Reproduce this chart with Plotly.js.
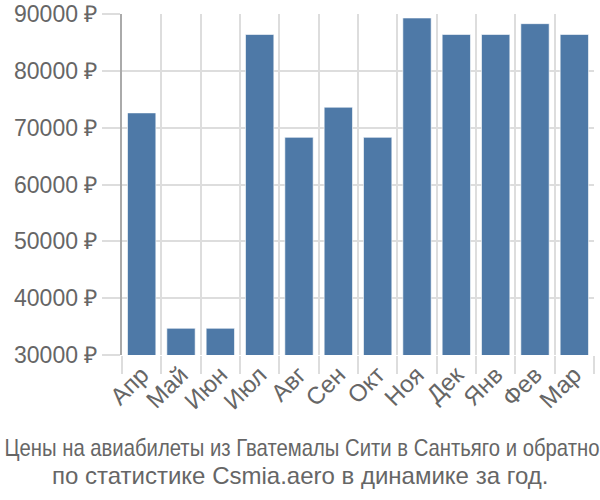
<!DOCTYPE html>
<html><head><meta charset="utf-8">
<script src="https://cdn.plot.ly/plotly-3.0.1.min.js"></script>
<style>body{margin:0;}#c{width:600px;height:500px;}</style>
</head><body><div id="c"></div>
<script>
const months = ["Апр","Май","Июн","Июл","Авг","Сен","Окт","Ноя","Дек","Янв","Фев","Мар"];
const prices = [72600, 34700, 34700, 86400, 68300, 73600, 68300, 89300, 86400, 86400, 88300, 86400];
const yTicks = [30000, 40000, 50000, 60000, 70000, 80000, 90000];
const yTickText = yTicks.map(v => v + " ₽");
const titleLine1 = "Цены на авиабилеты из Гватемалы Сити в Сантьяго и обратно";
const titleLine2 = "по статистике Csmia.aero в динамике за год.";

const titleFont = {family: "Liberation Sans, Arial, sans-serif", size: 24, color: "#666"};
Plotly.newPlot("c", [{
  type: "bar", x: months, y: prices,
  marker: {color: "#4e79a7", line: {color: "rgba(255,255,255,0.6)", width: 1}},
  hoverinfo: "none"
}], {
  width: 600, height: 500,
  margin: {l: 122, r: 6, t: 14, b: 145},
  bargap: 0.28,
  paper_bgcolor: "#fff", plot_bgcolor: "#fff",
  font: {family: "Liberation Sans, Arial, sans-serif", color: "#666"},
  xaxis: {
    tickson: "boundaries", ticks: "outside", ticklen: 18, tickcolor: "#ddd", tickwidth: 2,
    showgrid: true, gridcolor: "#ddd", gridwidth: 2,
    tickangle: -45, tickfont: {size: 24, color: "#666"},
    showline: false
  },
  yaxis: {
    range: [30000, 90000], tickvals: yTicks, ticktext: yTickText,
    ticks: "outside", ticklen: 18, tickcolor: "#ddd", tickwidth: 2,
    gridcolor: "#ddd", gridwidth: 2, zeroline: false,
    tickfont: {size: 23, color: "#666"},
    showline: true, linecolor: "#aaa", linewidth: 2
  },
  annotations: [
    {text: titleLine1, xref: "paper", yref: "paper", x: (301.5 - 122) / 472, y: (355 - 447.5) / 341,
     xanchor: "center", yanchor: "middle", showarrow: false, font: titleFont},
    {text: titleLine2, xref: "paper", yref: "paper", x: (300 - 122) / 472, y: (355 - 475) / 341,
     xanchor: "center", yanchor: "middle", showarrow: false, font: titleFont}
  ],
  showlegend: false
}, {displayModeBar: false, staticPlot: true}).then(function (gd) {
  const t = gd.querySelectorAll(".annotation-text")[0];
  if (t) { t.setAttribute("textLength", "595"); t.setAttribute("lengthAdjust", "spacingAndGlyphs"); }
});
</script></body></html>
